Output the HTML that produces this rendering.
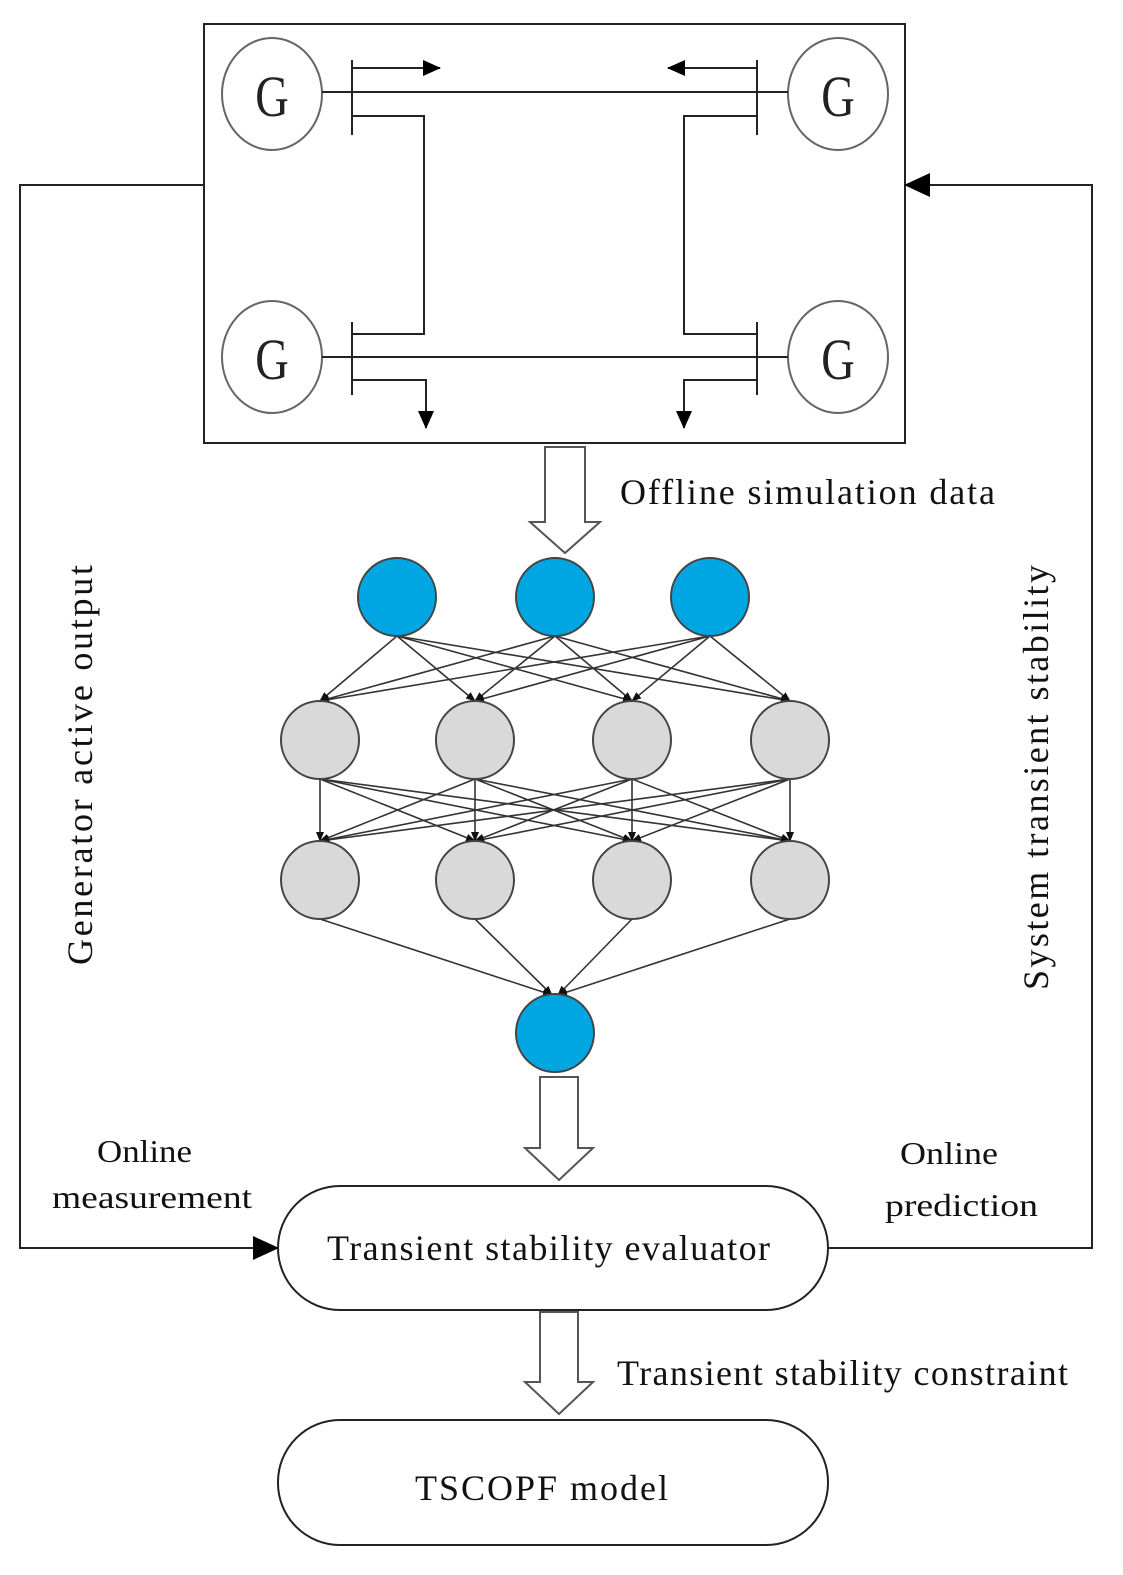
<!DOCTYPE html>
<html><head><style>body{margin:0;background:#fff}svg{display:block}</style></head><body>
<svg width="1123" height="1575" viewBox="0 0 1123 1575" xmlns="http://www.w3.org/2000/svg" font-family="Liberation Serif, serif">
<defs>
<marker id="a" markerWidth="10" markerHeight="10" refX="9" refY="5" orient="auto" markerUnits="userSpaceOnUse"><path d="M0,1 L10,5 L0,9 Z" fill="#111"/></marker>
<marker id="b" markerWidth="18" markerHeight="16" refX="17" refY="8" orient="auto" markerUnits="userSpaceOnUse"><path d="M0,0 L18,8 L0,16 Z" fill="#000"/></marker>
<marker id="c" markerWidth="26" markerHeight="24" refX="25" refY="12" orient="auto" markerUnits="userSpaceOnUse"><path d="M0,0 L26,12 L0,24 Z" fill="#000"/></marker>
</defs>
<g fill="none" stroke="#222" stroke-width="2">
<rect x="204" y="24" width="701" height="419"/>
<ellipse cx="272" cy="94" rx="50" ry="56" stroke="#666"/>
<ellipse cx="838" cy="94" rx="50" ry="56" stroke="#666"/>
<ellipse cx="272" cy="357" rx="50" ry="56" stroke="#666"/>
<ellipse cx="838" cy="357" rx="50" ry="56" stroke="#666"/>
<line x1="352" y1="60" x2="352" y2="135"/><line x1="757" y1="60" x2="757" y2="135"/>
<line x1="352" y1="322" x2="352" y2="395"/><line x1="757" y1="322" x2="757" y2="395"/>
<line x1="322" y1="92" x2="788" y2="92"/>
<line x1="322" y1="357" x2="788" y2="357"/>
<line x1="352" y1="68" x2="440" y2="68" marker-end="url(#b)"/>
<line x1="757" y1="68" x2="668" y2="68" marker-end="url(#b)"/>
<polyline points="352,116 424,116 424,334 352,334"/>
<polyline points="757,116 684,116 684,334 757,334"/>
<polyline points="352,380 426,380 426,428" marker-end="url(#b)"/>
<polyline points="757,380 684,380 684,428" marker-end="url(#b)"/>
<polyline points="204,185 20,185 20,1248 278,1248" marker-end="url(#c)"/>
<polyline points="828,1248 1092,1248 1092,185 905,185" marker-end="url(#c)"/>
<path d="M545,447 H585 V522 H600 L565,553 L530,522 H545 Z" stroke="#555"/>
<path d="M540,1077 H578 V1148 H593 L559,1180 L525,1148 H540 Z" stroke="#555"/>
<path d="M540,1312 H578 V1382 H593 L559,1414 L525,1382 H540 Z" stroke="#555"/>
<rect x="278" y="1186" width="550" height="124" rx="62"/>
<rect x="278" y="1420" width="550" height="125" rx="62"/>
</g>
<g fill="#222" font-size="58" text-anchor="middle">
<text x="272" y="116" transform="scale(0.8 1) translate(68 0)">G</text>
<text x="838" y="116" transform="scale(0.8 1) translate(209.5 0)">G</text>
<text x="272" y="379" transform="scale(0.8 1) translate(68 0)">G</text>
<text x="838" y="379" transform="scale(0.8 1) translate(209.5 0)">G</text>
</g>
<g stroke="#333" stroke-width="1.6" marker-end="url(#a)">
<line x1="397" y1="636" x2="320" y2="701"/><line x1="397" y1="636" x2="475" y2="701"/><line x1="397" y1="636" x2="632" y2="701"/><line x1="397" y1="636" x2="790" y2="701"/>
<line x1="555" y1="636" x2="320" y2="701"/><line x1="555" y1="636" x2="475" y2="701"/><line x1="555" y1="636" x2="632" y2="701"/><line x1="555" y1="636" x2="790" y2="701"/>
<line x1="710" y1="636" x2="320" y2="701"/><line x1="710" y1="636" x2="475" y2="701"/><line x1="710" y1="636" x2="632" y2="701"/><line x1="710" y1="636" x2="790" y2="701"/>
<line x1="320" y1="779" x2="320" y2="841"/><line x1="320" y1="779" x2="475" y2="841"/><line x1="320" y1="779" x2="632" y2="841"/><line x1="320" y1="779" x2="790" y2="841"/>
<line x1="475" y1="779" x2="320" y2="841"/><line x1="475" y1="779" x2="475" y2="841"/><line x1="475" y1="779" x2="632" y2="841"/><line x1="475" y1="779" x2="790" y2="841"/>
<line x1="632" y1="779" x2="320" y2="841"/><line x1="632" y1="779" x2="475" y2="841"/><line x1="632" y1="779" x2="632" y2="841"/><line x1="632" y1="779" x2="790" y2="841"/>
<line x1="790" y1="779" x2="320" y2="841"/><line x1="790" y1="779" x2="475" y2="841"/><line x1="790" y1="779" x2="632" y2="841"/><line x1="790" y1="779" x2="790" y2="841"/>
<line x1="320" y1="919" x2="552" y2="995"/><line x1="475" y1="919" x2="552" y2="995"/><line x1="632" y1="919" x2="558" y2="995"/><line x1="790" y1="919" x2="558" y2="995"/>
</g>
<g stroke="#444" stroke-width="2">
<circle cx="397" cy="597" r="39" fill="#00a6e2"/><circle cx="555" cy="597" r="39" fill="#00a6e2"/><circle cx="710" cy="597" r="39" fill="#00a6e2"/>
<circle cx="320" cy="740" r="39" fill="#d9d9d9"/><circle cx="475" cy="740" r="39" fill="#d9d9d9"/><circle cx="632" cy="740" r="39" fill="#d9d9d9"/><circle cx="790" cy="740" r="39" fill="#d9d9d9"/>
<circle cx="320" cy="880" r="39" fill="#d9d9d9"/><circle cx="475" cy="880" r="39" fill="#d9d9d9"/><circle cx="632" cy="880" r="39" fill="#d9d9d9"/><circle cx="790" cy="880" r="39" fill="#d9d9d9"/>
<circle cx="555" cy="1033" r="39" fill="#00a6e2"/>
</g>
<g fill="#111" font-size="36">
<text x="620" y="504" textLength="375" lengthAdjust="spacing">Offline simulation data</text>
<text x="327" y="1260" textLength="443" lengthAdjust="spacing">Transient stability evaluator</text>
<text x="617" y="1385" textLength="451" lengthAdjust="spacing">Transient stability constraint</text>
<text x="415" y="1500" textLength="253" lengthAdjust="spacing">TSCOPF model</text>
<text x="97" y="1162" font-size="32" textLength="95" lengthAdjust="spacingAndGlyphs">Online</text>
<text x="52" y="1208" font-size="32" textLength="200" lengthAdjust="spacingAndGlyphs">measurement</text>
<text x="900" y="1164" font-size="32" textLength="98" lengthAdjust="spacingAndGlyphs">Online</text>
<text x="885" y="1216" font-size="32" textLength="153" lengthAdjust="spacingAndGlyphs">prediction</text>
<text transform="translate(92 965) rotate(-90)" textLength="400" lengthAdjust="spacing">Generator active output</text>
<text transform="translate(1048 990) rotate(-90)" textLength="425" lengthAdjust="spacing">System transient stability</text>
</g>
</svg>
</body></html>
